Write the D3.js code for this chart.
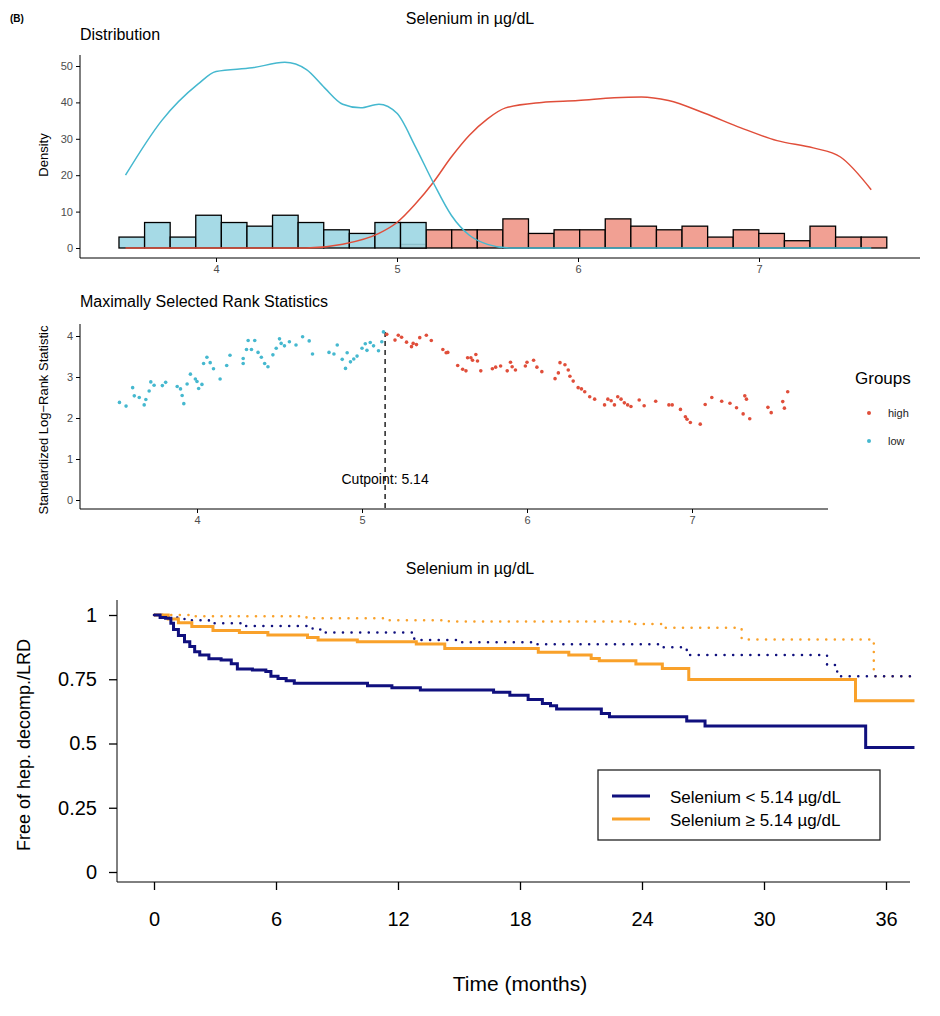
<!DOCTYPE html>
<html><head><meta charset="utf-8">
<script src="https://cdn.jsdelivr.net/npm/d3@7"></script>
<style>body{margin:0;background:#fff}text{font-family:"Liberation Sans",Arial,sans-serif}</style>
</head><body><div id="canevas"></div>
<script>
// données
const binStart = 3.464, binW = 0.1414;
const lowCounts = [3,7,3,9,7,6,9,7,5,4,7,7];           // bins 0..11
const highCounts = [1,5,5,5,8,4,5,5,8,6,5,6,3,5,4,2,6,3,3]; // bins 11..29
const lowDens = [[3.5,20],[3.7,35],[3.9,45],[4.0,48.5],[4.2,49.5],[4.38,51],[4.5,49],[4.6,44],[4.7,39.5],[4.8,38.5],[4.9,39.5],[5.0,37],[5.1,28],[5.2,18],[5.3,9],[5.4,3.5],[5.5,1],[5.62,0],[7.62,0]];
const highDens = [[3.5,0],[4.5,0],[4.7,1],[4.9,4],[5.0,7],[5.1,12],[5.2,18],[5.3,25],[5.4,31],[5.5,35.5],[5.6,38.5],[5.8,40],[6.0,40.5],[6.2,41.3],[6.35,41.5],[6.5,40.5],[6.7,37],[6.9,33],[7.1,29.5],[7.3,27.5],[7.45,25],[7.62,16]];
const lowPts = [[3.53,2.38],[3.57,2.29],[3.61,2.74],[3.62,2.54],[3.65,2.5],[3.68,2.32],[3.69,2.45],[3.71,2.66],[3.72,2.88],[3.74,2.8],[3.79,2.79],[3.81,2.87],[3.88,2.77],[3.9,2.71],[3.91,2.55],[3.92,2.35],[3.94,2.83],[3.96,3.07],[3.99,2.95],[4.0,2.89],[4.01,2.72],[4.03,2.82],[4.04,3.33],[4.06,3.48],[4.08,3.35],[4.1,3.2],[4.14,2.95],[4.18,3.28],[4.2,3.53],[4.28,3.45],[4.28,3.33],[4.3,3.67],[4.31,3.89],[4.35,3.89],[4.33,3.67],[4.37,3.6],[4.39,3.48],[4.41,3.33],[4.43,3.25],[4.46,3.54],[4.48,3.7],[4.5,3.93],[4.51,3.82],[4.53,3.76],[4.56,3.86],[4.6,3.78],[4.64,3.98],[4.68,3.88],[4.7,3.56],[4.8,3.6],[4.83,3.56],[4.85,3.78],[4.88,3.43],[4.9,3.21],[4.91,3.59],[4.93,3.37],[4.95,3.44],[4.97,3.51],[5.0,3.7],[5.02,3.81],[5.03,3.65],[5.05,3.84],[5.07,3.76],[5.1,3.64],[5.12,3.86],[5.13,4.1]];
const highPts = [[5.15,4.04],[5.2,3.9],[5.22,4.02],[5.24,3.97],[5.27,3.85],[5.3,3.74],[5.31,3.82],[5.33,3.79],[5.35,3.96],[5.39,4.02],[5.42,3.89],[5.49,3.67],[5.51,3.59],[5.52,3.6],[5.58,3.28],[5.61,3.19],[5.63,3.15],[5.64,3.47],[5.66,3.47],[5.67,3.41],[5.69,3.55],[5.7,3.39],[5.72,3.15],[5.79,3.2],[5.81,3.24],[5.84,3.27],[5.88,3.15],[5.9,3.36],[5.91,3.25],[5.93,3.17],[5.99,3.27],[6.0,3.36],[6.04,3.41],[6.06,3.24],[6.09,3.13],[6.17,2.96],[6.19,3.1],[6.2,3.35],[6.23,3.3],[6.25,3.17],[6.26,3.02],[6.28,2.9],[6.31,2.74],[6.33,2.71],[6.35,2.64],[6.38,2.52],[6.41,2.46],[6.47,2.32],[6.49,2.46],[6.51,2.42],[6.53,2.32],[6.55,2.52],[6.57,2.46],[6.59,2.37],[6.61,2.32],[6.63,2.28],[6.68,2.44],[6.71,2.3],[6.78,2.41],[6.86,2.32],[6.88,2.32],[6.93,2.21],[6.96,2.03],[6.97,1.97],[6.99,1.89],[7.05,1.85],[7.08,2.33],[7.12,2.5],[7.18,2.41],[7.23,2.36],[7.27,2.25],[7.31,2.1],[7.35,1.98],[7.32,2.54],[7.33,2.46],[7.46,2.26],[7.48,2.13],[7.55,2.4],[7.56,2.24],[7.58,2.64]];
const cutpoint = 5.14;
const kmLow = [[0,1],[0.3,0.99],[0.57,0.987],[0.83,0.968],[0.96,0.944],[1.2,0.92],[1.5,0.896],[1.76,0.877],[2.0,0.857],[2.25,0.844],[2.7,0.83],[3.3,0.825],[3.8,0.81],[4.1,0.79],[4.84,0.786],[5.5,0.78],[5.75,0.762],[6.1,0.753],[6.5,0.744],[6.9,0.734],[10.5,0.725],[11.7,0.717],[13.1,0.708],[16.7,0.699],[17.5,0.688],[18.4,0.671],[19.1,0.656],[19.5,0.647],[19.8,0.634],[22.0,0.617],[22.4,0.604],[26.2,0.588],[27.1,0.568],[35.0,0.484],[37.4,0.484]];
const kmHigh = [[0,1],[0.7,0.984],[1.2,0.97],[1.86,0.955],[2.9,0.94],[4.2,0.932],[5.6,0.922],[7.55,0.912],[8.07,0.903],[10.0,0.896],[12.9,0.887],[14.3,0.87],[18.9,0.855],[20.4,0.844],[21.5,0.831],[21.9,0.822],[23.7,0.809],[25.0,0.792],[26.3,0.749],[34.5,0.666],[37.4,0.666]];
const kmLowRef = [[0,1],[0.6,0.99],[1.5,0.98],[2.7,0.968],[4.3,0.957],[7.8,0.944],[8.3,0.932],[12.8,0.903],[15,0.894],[18.7,0.886],[24.9,0.875],[26.2,0.844],[33.1,0.805],[33.6,0.762],[37.4,0.762]];
const kmHighRef = [[0,1],[2,0.995],[7.5,0.987],[11.5,0.98],[14.5,0.975],[23.5,0.965],[25,0.95],[28.9,0.905],[35.4,0.762],[37.4,0.762]];
const kmTicksX = [0,6,12,18,24,30,36];
const kmTicksY = [0,0.25,0.5,0.75,1];

const bleu = "#45b8cf", rouge = "#e04e3a", bleuF = "#9cd6e3", rougeF = "#f1a093";
const navy = "#10107e", orange = "#f9a12a";

const svg = d3.select("#canevas").append("svg").attr("width",940).attr("height",1016);
const gris = "#4d4d4d";

function txt(x,y,s,size,opts={}){
  const t = svg.append("text").attr("x",x).attr("y",y).text(s).attr("font-size",size).attr("fill",opts.fill||"#000");
  if(opts.anchor) t.attr("text-anchor",opts.anchor);
  if(opts.weight) t.attr("font-weight",opts.weight);
  if(opts.rot) t.attr("transform",`rotate(-90,${x},${y})`);
  return t;
}
function styleAxe(g,size){
  g.selectAll("text").attr("font-size",size).attr("fill",gris).style("font-family","Liberation Sans,Arial,sans-serif");
  g.select(".domain").attr("stroke","#000");
}

txt(10,22,"(B)",10,{weight:"bold"});
txt(470,24,"Selenium in µg/dL",16,{anchor:"middle"});

// ---- panneau 1 : distribution
const x1 = d3.scaleLinear().domain([4,7]).range([216,759]);
const y1 = d3.scaleLinear().domain([0,50]).range([248,66]);
txt(80,40,"Distribution",16);
txt(48,155,"Density",13,{anchor:"middle",rot:true});
const ax1 = svg.append("g").attr("transform","translate(0,258)").call(d3.axisBottom(x1).ticks(4).tickSize(4).tickFormat(d3.format("d")));
ax1.select(".domain").attr("d","M80,0H920");
styleAxe(ax1,11);
const ay1 = svg.append("g").attr("transform","translate(80,0)").call(d3.axisLeft(y1).ticks(5).tickSize(4));
ay1.select(".domain").attr("d","M0,55V258");
styleAxe(ay1,11);

highCounts.forEach((c,i)=>{
  const b = binStart + (i+11)*binW;
  svg.append("rect").attr("x",x1(b)).attr("y",y1(c)).attr("width",x1(b+binW)-x1(b)).attr("height",y1(0)-y1(c))
    .attr("fill",rougeF).attr("stroke","#000").attr("stroke-width",1.3);
});
lowCounts.forEach((c,i)=>{
  const b = binStart + i*binW;
  svg.append("rect").attr("x",x1(b)).attr("y",y1(c)).attr("width",x1(b+binW)-x1(b)).attr("height",y1(0)-y1(c))
    .attr("fill",bleuF).attr("fill-opacity",0.9).attr("stroke","#000").attr("stroke-width",1.3);
});
const ligneD = d3.line().x(d=>x1(d[0])).y(d=>y1(d[1])).curve(d3.curveMonotoneX);
svg.append("path").attr("d",ligneD(highDens)).attr("fill","none").attr("stroke",rouge).attr("stroke-width",1.5);
svg.append("path").attr("d",ligneD(lowDens)).attr("fill","none").attr("stroke",bleu).attr("stroke-width",1.5);

// ---- panneau 2 : statistiques
const x2 = d3.scaleLinear().domain([4,7]).range([197,692]);
const y2 = d3.scaleLinear().domain([0,4]).range([500,336]);
txt(80,307,"Maximally Selected Rank Statistics",16);
txt(48,420,"Standardized Log−Rank Statistic",13,{anchor:"middle",rot:true});
const ax2 = svg.append("g").attr("transform","translate(0,509)").call(d3.axisBottom(x2).ticks(4).tickSize(4).tickFormat(d3.format("d")));
ax2.select(".domain").attr("d","M80,0H828");
styleAxe(ax2,11);
const ay2 = svg.append("g").attr("transform","translate(80,0)").call(d3.axisLeft(y2).ticks(5).tickSize(4));
ay2.select(".domain").attr("d","M0,324V509");
styleAxe(ay2,11);
svg.append("line").attr("x1",x2(cutpoint)).attr("x2",x2(cutpoint)).attr("y1",y2(4.1)).attr("y2",509)
  .attr("stroke","#000").attr("stroke-width",1.3).attr("stroke-dasharray","5,4");
txt(x2(cutpoint),484,"Cutpoint: "+cutpoint,14,{anchor:"middle"});
svg.selectAll(".pl").data(lowPts).enter().append("circle").attr("cx",d=>x2(d[0])).attr("cy",d=>y2(d[1])).attr("r",1.8).attr("fill",bleu);
svg.selectAll(".ph").data(highPts).enter().append("circle").attr("cx",d=>x2(d[0])).attr("cy",d=>y2(d[1])).attr("r",1.8).attr("fill",rouge);
txt(855,384,"Groups",17);
svg.append("circle").attr("cx",869).attr("cy",413).attr("r",2).attr("fill",rouge);
txt(888,417,"high",11,{fill:"#222"});
svg.append("circle").attr("cx",869).attr("cy",441).attr("r",2).attr("fill",bleu);
txt(888,445,"low",11,{fill:"#222"});

// ---- panneau 3 : Kaplan-Meier
txt(470,574,"Selenium in µg/dL",16,{anchor:"middle"});
const x3 = d3.scaleLinear().domain([0,6]).range([154,276]);
const y3 = d3.scaleLinear().domain([0,1]).range([872,615]);
const ax3 = svg.append("g").attr("transform","translate(0,882)").call(d3.axisBottom(x3).tickValues(kmTicksX).tickSize(8).tickPadding(22).tickFormat(d3.format("d")));
ax3.select(".domain").attr("d","M117,0H910");
ax3.selectAll("line").attr("stroke-width",1.3);
styleAxe(ax3,20); ax3.selectAll("text").attr("fill","#000");
const ay3 = svg.append("g").attr("transform","translate(117,0)").call(d3.axisLeft(y3).tickValues(kmTicksY).tickSize(8).tickPadding(12).tickFormat(d3.format("")));
ay3.select(".domain").attr("d","M0,600V882");
ay3.selectAll("line").attr("stroke-width",1.3);
styleAxe(ay3,20); ay3.selectAll("text").attr("fill","#000");
txt(30,745,"Free of hep. decomp./LRD",18,{anchor:"middle",rot:true});
txt(520,991,"Time (months)",21,{anchor:"middle"});

const ligneK = d3.line().x(d=>x3(d[0])).y(d=>y3(d[1])).curve(d3.curveStepAfter);
svg.append("path").attr("d",ligneK(kmHighRef)).attr("fill","none").attr("stroke",orange).attr("stroke-width",2.5).attr("stroke-dasharray","0.1,8.5").attr("stroke-linecap","round");
svg.append("path").attr("d",ligneK(kmLowRef)).attr("fill","none").attr("stroke",navy).attr("stroke-width",2.5).attr("stroke-dasharray","0.1,8.5").attr("stroke-linecap","round");
svg.append("path").attr("d",ligneK(kmHigh)).attr("fill","none").attr("stroke",orange).attr("stroke-width",3);
svg.append("path").attr("d",ligneK(kmLow)).attr("fill","none").attr("stroke",navy).attr("stroke-width",3);

svg.append("rect").attr("x",598).attr("y",770).attr("width",282).attr("height",70).attr("fill","#fff").attr("stroke","#222").attr("stroke-width",1.3);
svg.append("line").attr("x1",612).attr("x2",650).attr("y1",796).attr("y2",796).attr("stroke",navy).attr("stroke-width",3);
svg.append("line").attr("x1",612).attr("x2",650).attr("y1",819).attr("y2",819).attr("stroke",orange).attr("stroke-width",3);
txt(670,803,"Selenium < 5.14 µg/dL",17);
txt(670,826,"Selenium ≥ 5.14 µg/dL",17);
</script></body></html>
